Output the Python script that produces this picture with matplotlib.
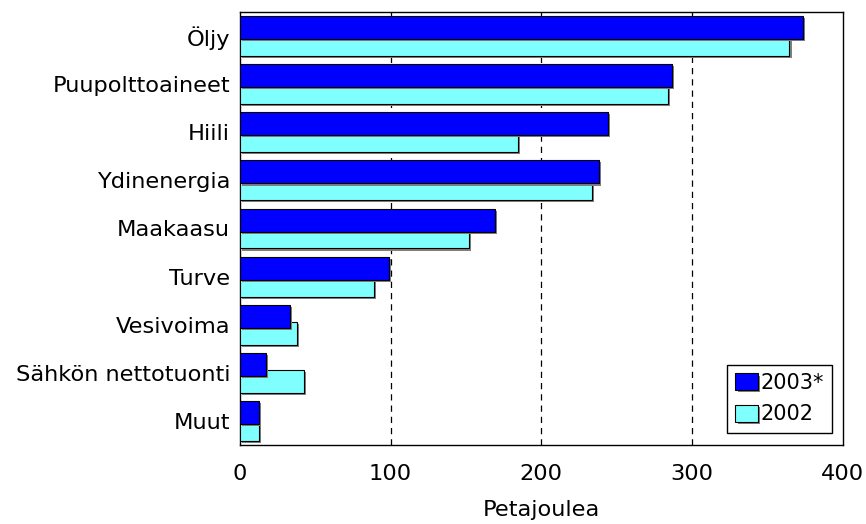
import numpy as np
import matplotlib
matplotlib.use("Agg")
import matplotlib.pyplot as plt
import matplotlib.patheffects as pe

categories = ["Öljy", "Puupolttoaineet", "Hiili", "Ydinenergia", "Maakaasu",
              "Turve", "Vesivoima", "Sähkön nettotuonti", "Muut"]
y2003 = [373.5, 287, 244.5, 238, 169, 98.7, 33.3, 17.3, 12.9]
y2002 = [364.7, 284, 184.5, 233.4, 152, 89, 37.8, 42.8, 12.9]

plt.rcParams["font.family"] = "DejaVu Sans"
plt.rcParams["font.size"] = 16.2

fig = plt.figure(figsize=(8.66, 5.24), dpi=100)
ax = fig.add_axes([0.277, 0.151, 0.696, 0.826])

pos = np.arange(len(categories))
h = 0.48
off = 0.175
shadow = [pe.SimplePatchShadow(offset=(1.5, -1.5), shadow_rgbFace="#808080", alpha=1.0),
          pe.Normal()]

b2 = ax.barh(pos + off, y2002, height=h, color="#80FFFF", edgecolor="black",
             linewidth=0.8, label="2002", zorder=3)
b1 = ax.barh(pos - off, y2003, height=h, color="#0000FF", edgecolor="black",
             linewidth=0.8, label="2003*", zorder=4)
for b in list(b2) + list(b1):
    b.set_path_effects(shadow)

ax.set_xlim(0, 400)
ax.set_ylim(len(categories) - 0.5, -0.5)
ax.set_yticks(pos)
ax.set_yticklabels(categories)
ax.set_xticks([0, 100, 200, 300, 400])
ax.tick_params(axis="y", length=0, pad=7)
ax.tick_params(axis="x", length=0, pad=14)
for v in [100, 200, 300]:
    ax.axvline(v, color="black", linestyle=(0, (5, 4)), linewidth=0.9, zorder=1)
for s in ax.spines.values():
    s.set_linewidth(1.0)

ax.set_xlabel("Petajoulea", labelpad=11)

leg = ax.legend(handles=[b1, b2], labels=["2003*", "2002"], loc="lower right",
                bbox_to_anchor=(0.982, 0.028), borderaxespad=0, fancybox=False,
                edgecolor="black", framealpha=1, handlelength=1.1, handleheight=0.85,
                handletextpad=0.08, borderpad=0.4, labelspacing=0.55, fontsize=15)
leg.get_frame().set_linewidth(1.0)

fig.savefig("out.png", dpi=100)
